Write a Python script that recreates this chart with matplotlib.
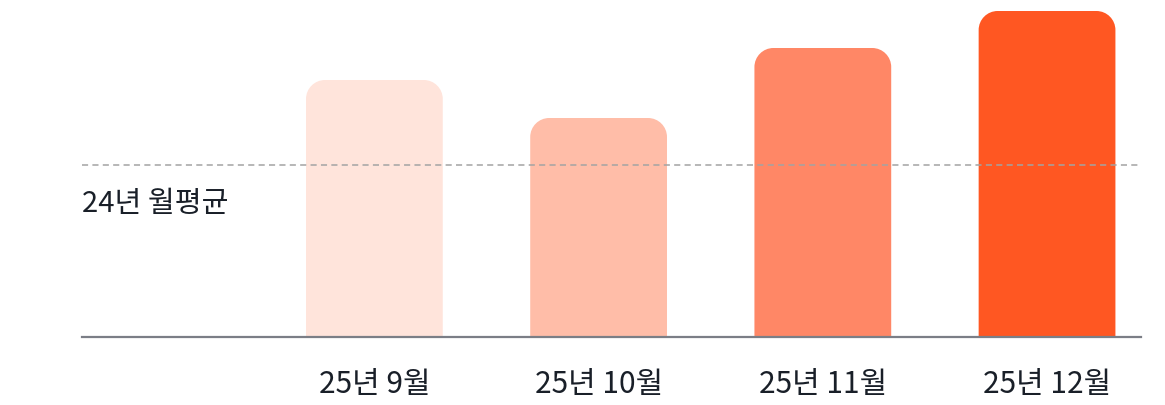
import matplotlib.pyplot as plt
from matplotlib.path import Path
from matplotlib.patches import PathPatch

plt.rcParams["font.family"] = ["Noto Sans CJK KR", "DejaVu Sans"]

# values (arbitrary units, baseline = 0)
months = ["25년 9월", "25년 10월", "25년 11월", "25년 12월"]
values = [257, 219, 289, 326]
avg_label = "24년 월평균"
avg_value = 172

bar_colors = ["#ffe4db", "#ffbda8", "#ff8766", "#ff5722"]
COLOR_INK = "#191f28"
COLOR_AXIS = "#7b7e86"
COLOR_DASH = "#a3a3a3"

W, H, DPI = 1165, 406, 100
AX_LEFT, AX_RIGHT, AX_BASE = 82, 1141, 338
SLOT_PX = 224.3
BAR_W = 0.61
RADIUS_PX = 19


def rounded_top_bar(ax, x, height, width, rx, ry, color):
    x0, x1 = x - width / 2, x + width / 2
    k = 0.5523  # bezier circle constant
    verts = [
        (x0, 0), (x0, height - ry),
        (x0, height - ry + k * ry), (x0 + rx - k * rx, height), (x0 + rx, height),
        (x1 - rx, height),
        (x1 - rx + k * rx, height), (x1, height - ry + k * ry), (x1, height - ry),
        (x1, 0), (x0, 0),
    ]
    codes = [
        Path.MOVETO, Path.LINETO,
        Path.CURVE4, Path.CURVE4, Path.CURVE4,
        Path.LINETO,
        Path.CURVE4, Path.CURVE4, Path.CURVE4,
        Path.LINETO, Path.CLOSEPOLY,
    ]
    ax.add_patch(PathPatch(Path(verts, codes), facecolor=color, edgecolor="none", zorder=2))


fig = plt.figure(figsize=(W / DPI, H / DPI), dpi=DPI)
ax = fig.add_axes([AX_LEFT / W, (H - AX_BASE) / H, (AX_RIGHT - AX_LEFT) / W, AX_BASE / H])

positions = list(range(len(months)))
left_pad = (374.5 - AX_LEFT) / SLOT_PX
right_pad = (AX_RIGHT - 1047) / SLOT_PX
ax.set_xlim(-left_pad, positions[-1] + right_pad)
ax.set_ylim(0, AX_BASE)

rx = RADIUS_PX / SLOT_PX
ry = RADIUS_PX  # y data units are pixels here
for pos, val, col in zip(positions, values, bar_colors):
    rounded_top_bar(ax, pos, val, BAR_W, rx, ry, col)

ax.axhline(avg_value, color=COLOR_DASH, lw=1.1, ls=(0, (4, 2.8)), zorder=3)
ax.text(-left_pad, avg_value - 38, avg_label, ha="left", va="center",
        fontsize=21, fontweight="medium", color=COLOR_INK)

for side in ("top", "right", "left"):
    ax.spines[side].set_visible(False)
ax.spines["bottom"].set_color(COLOR_AXIS)
ax.spines["bottom"].set_linewidth(1.6)
ax.spines["bottom"].set_zorder(4)

ax.set_yticks([])
ax.set_xticks(positions)
ax.set_xticklabels(months, fontsize=21.5, fontweight="medium", color=COLOR_INK)
ax.tick_params(axis="x", length=0, pad=22)

fig.savefig("out.png", dpi=DPI, facecolor="white")
